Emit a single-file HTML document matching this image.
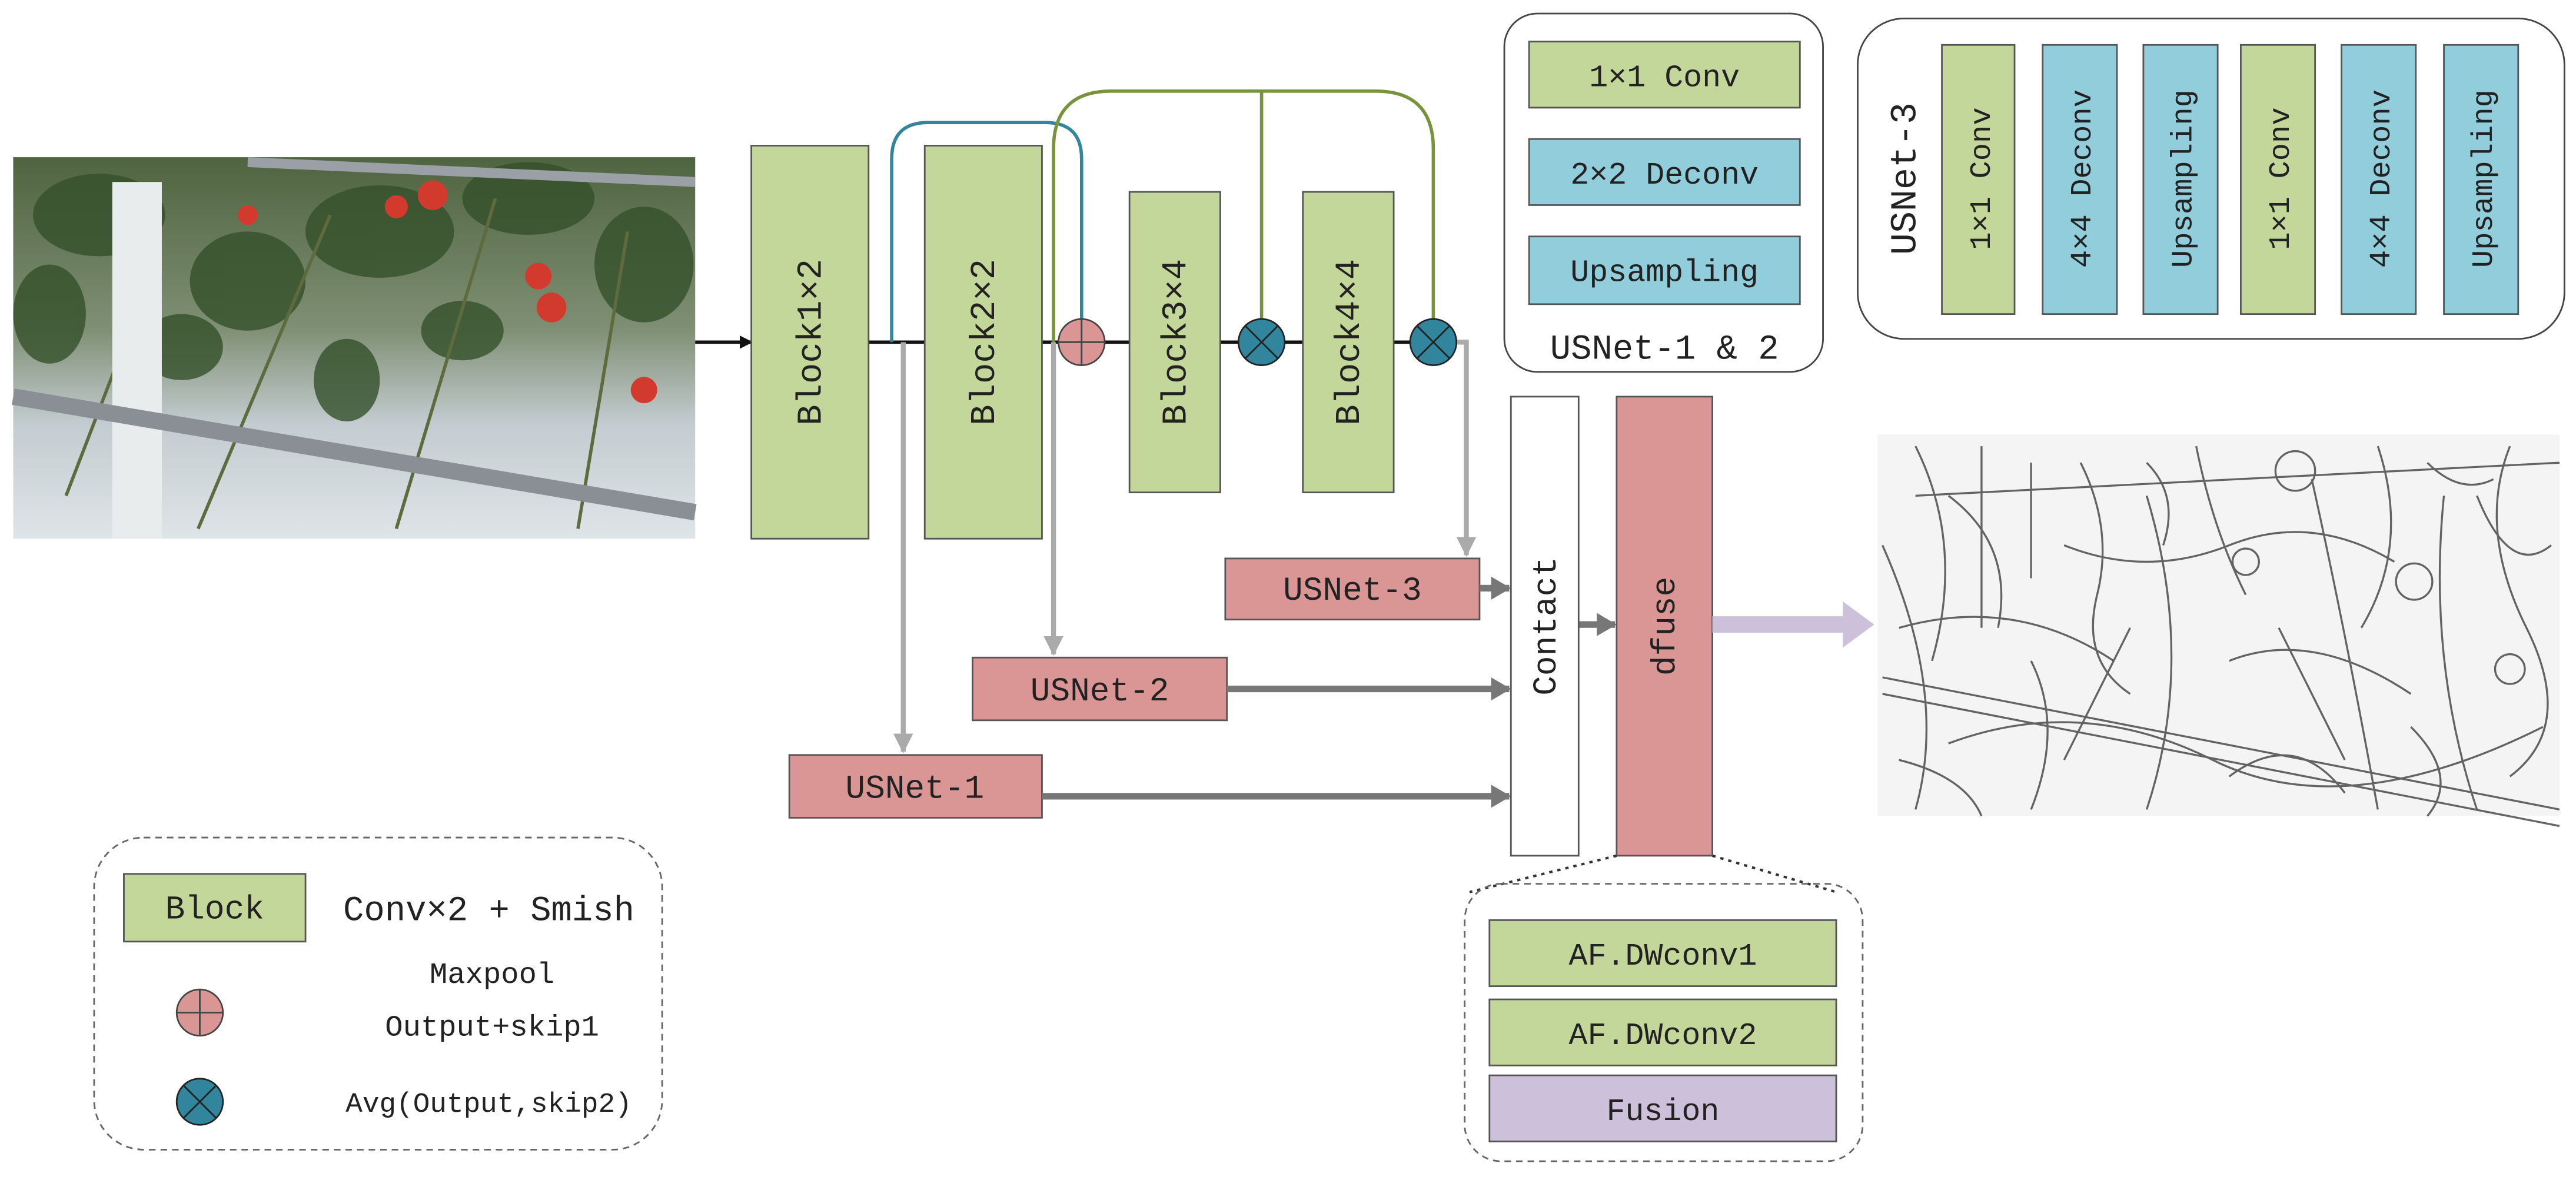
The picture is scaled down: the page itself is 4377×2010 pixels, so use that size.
<!DOCTYPE html>
<html><head><meta charset="utf-8"><style>
html,body{margin:0;padding:0;background:#fff;}
svg{display:block;}
text{font-family:"Liberation Mono","Noto Serif CJK SC",monospace;fill:#222;}
</style></head><body>
<svg width="4377" height="2010" viewBox="0 0 1560 716" xmlns="http://www.w3.org/2000/svg">
<defs>
<linearGradient id="ph" x1="0" y1="0" x2="0" y2="1">
<stop offset="0" stop-color="#4f6440"/><stop offset="0.45" stop-color="#7f8f74"/><stop offset="0.7" stop-color="#c3ccd0"/><stop offset="1" stop-color="#dfe4e8"/></linearGradient>
<marker id="ab" markerWidth="8" markerHeight="8" refX="7" refY="4" orient="auto" markerUnits="userSpaceOnUse"><path d="M0,0 L8,4 L0,8 z" fill="#111"/></marker>
<marker id="ag" markerWidth="12" markerHeight="12" refX="11" refY="6" orient="auto" markerUnits="userSpaceOnUse"><path d="M0,0 L12,6 L0,12 z" fill="#aaa"/></marker>
<marker id="ad" markerWidth="12" markerHeight="14" refX="11" refY="7" orient="auto" markerUnits="userSpaceOnUse"><path d="M0,0 L12,7 L0,14 z" fill="#777"/></marker>
</defs>
<!-- photo -->
<rect x="8" y="95" width="413" height="231" fill="url(#ph)"/>
<g fill="#34502a" opacity="0.8">
<ellipse cx="60" cy="130" rx="40" ry="25"/><ellipse cx="150" cy="170" rx="35" ry="30"/><ellipse cx="230" cy="140" rx="45" ry="28"/><ellipse cx="320" cy="120" rx="40" ry="22"/><ellipse cx="390" cy="160" rx="30" ry="35"/><ellipse cx="110" cy="210" rx="25" ry="20"/><ellipse cx="210" cy="230" rx="20" ry="25"/><ellipse cx="30" cy="190" rx="22" ry="30"/><ellipse cx="280" cy="200" rx="25" ry="18"/></g>
<g stroke="#5d6b3e" stroke-width="2" fill="none"><path d="M120,320 L200,130"/><path d="M240,320 L300,120"/><path d="M350,320 L380,140"/><path d="M40,300 L90,170"/></g>
<rect x="68" y="110" width="30" height="216" fill="#e8ecec"/>
<path d="M8,240 L421,310" stroke="#8a8f96" stroke-width="10"/>
<path d="M150,98 L421,110" stroke="#9aa0a6" stroke-width="6"/>
<g fill="#d33a2e"><circle cx="262" cy="118" r="9"/><circle cx="326" cy="167" r="8"/><circle cx="334" cy="186" r="9"/><circle cx="390" cy="236" r="8"/><circle cx="150" cy="130" r="6"/><circle cx="240" cy="125" r="7"/></g>
<!-- edge image -->
<rect x="1137" y="263" width="413" height="231" fill="#f4f4f4"/>
<g stroke="#333" stroke-width="1.2" fill="none" opacity="0.75">
<path d="M1140,410 L1550,490"/><path d="M1140,420 L1550,500"/><path d="M1200,270 L1200,380"/><path d="M1230,280 L1230,350"/><path d="M1140,330 Q1180,420 1160,490"/><path d="M1300,300 Q1330,400 1300,490"/><path d="M1400,290 Q1420,380 1440,490"/><path d="M1480,300 Q1470,400 1500,490"/><path d="M1160,300 L1550,280"/><path d="M1250,330 Q1300,350 1350,330 T1450,340"/><path d="M1180,450 Q1260,420 1340,460 T1540,440"/>
<circle cx="1390" cy="285" r="12"/><circle cx="1462" cy="352" r="11"/><circle cx="1520" cy="405" r="9"/><circle cx="1360" cy="340" r="8"/>
<path d="M1150,380 Q1220,360 1280,400"/><path d="M1350,400 Q1400,380 1460,420"/><path d="M1250,460 L1290,380"/><path d="M1420,460 L1380,380"/><path d="M1500,300 Q1520,350 1545,330"/>
<path d="M1160,270 Q1190,330 1170,400"/><path d="M1260,280 Q1280,320 1270,360 T1290,420"/><path d="M1330,270 Q1340,320 1360,360"/><path d="M1440,270 Q1460,330 1430,380"/><path d="M1520,270 Q1500,320 1530,380 T1520,470"/><path d="M1180,300 Q1220,330 1210,380"/><path d="M1230,400 Q1250,440 1230,490"/><path d="M1350,470 Q1390,440 1420,480"/><path d="M1460,440 Q1490,470 1470,494"/><path d="M1150,460 Q1190,470 1200,494"/><path d="M1300,280 Q1320,300 1310,330"/><path d="M1470,280 Q1490,300 1510,290"/></g>
<!-- main flow -->
<line x1="421" y1="207" x2="455" y2="207" stroke="#111" stroke-width="2" marker-end="url(#ab)"/>
<line x1="526" y1="207" x2="560" y2="207" stroke="#111" stroke-width="2"/>
<line x1="631" y1="207" x2="684" y2="207" stroke="#111" stroke-width="2"/>
<line x1="739" y1="207" x2="789" y2="207" stroke="#111" stroke-width="2"/>
<line x1="844" y1="207" x2="882" y2="207" stroke="#111" stroke-width="2"/>
<g stroke="#aaa" stroke-width="3" fill="none">
<path d="M547,207 L547,455" marker-end="url(#ag)"/>
<path d="M638,207 L638,396" marker-end="url(#ag)"/>
<path d="M882,207 L888,207 L888,336" marker-end="url(#ag)"/></g>
<path d="M540,207 L540,96 Q540,74 562,74 L633,74 Q655,74 655,96 L655,193" stroke="#31859c" stroke-width="2" fill="none"/>
<path d="M638,207 L638,90 Q638,55 673,55 L833,55 Q868,55 868,90 L868,193" stroke="#77933c" stroke-width="2" fill="none"/>
<line x1="764" y1="55" x2="764" y2="193" stroke="#77933c" stroke-width="2"/>
<g fill="#c4d79b" stroke="#555" stroke-width="1">
<rect x="455" y="88" width="71" height="238"/><rect x="560" y="88" width="71" height="238"/>
<rect x="684" y="116" width="55" height="182"/><rect x="789" y="116" width="55" height="182"/></g>
<g font-size="21" text-anchor="middle">
<text transform="translate(497,207) rotate(-90)">Block1×2</text>
<text transform="translate(602,207) rotate(-90)">Block2×2</text>
<text transform="translate(718,207) rotate(-90)">Block3×4</text>
<text transform="translate(823,207) rotate(-90)">Block4×4</text></g>
<circle cx="655" cy="207" r="14" fill="#d99694" stroke="#444" stroke-width="1"/>
<path d="M641,207 H669 M655,193 V221" stroke="#444" stroke-width="1"/>
<g stroke="#222" stroke-width="1"><circle cx="764" cy="207" r="14" fill="#31859c"/><circle cx="868" cy="207" r="14" fill="#31859c"/>
<path d="M754,197 L774,217 M774,197 L754,217 M858,197 L878,217 M878,197 L858,217"/></g>
<g fill="#d99694" stroke="#555" stroke-width="1">
<rect x="742" y="338" width="154" height="37"/><rect x="589" y="398" width="154" height="38"/><rect x="478" y="457" width="153" height="38"/></g>
<g font-size="20" text-anchor="middle">
<text x="819" y="363">USNet-3</text><text x="666" y="424">USNet-2</text><text x="554" y="483">USNet-1</text></g>
<g stroke="#777" stroke-width="4">
<line x1="896" y1="356" x2="914" y2="356" marker-end="url(#ad)"/>
<line x1="743" y1="417" x2="914" y2="417" marker-end="url(#ad)"/>
<line x1="631" y1="482" x2="914" y2="482" marker-end="url(#ad)"/>
<line x1="956" y1="378" x2="978" y2="378" marker-end="url(#ad)"/></g>
<rect x="915" y="240" width="41" height="278" fill="#fff" stroke="#555" stroke-width="1"/>
<text transform="translate(942,379) rotate(-90)" font-size="20" text-anchor="middle">Contact</text>
<rect x="979" y="240" width="58" height="278" fill="#d99694" stroke="#555" stroke-width="1"/>
<text transform="translate(1014,379) rotate(-90)" font-size="20" text-anchor="middle">dfuse</text>
<line x1="1037" y1="378" x2="1118" y2="378" stroke="#ccc0da" stroke-width="10"/>
<path d="M1116,364 L1135,378 L1116,392 z" fill="#ccc0da"/>
<rect x="911" y="8" width="193" height="217" rx="20" fill="#fff" stroke="#444" stroke-width="1"/>
<rect x="926" y="25" width="164" height="40" fill="#c4d79b" stroke="#555"/>
<rect x="926" y="84" width="164" height="40" fill="#92cddc" stroke="#555"/>
<rect x="926" y="143" width="164" height="41" fill="#92cddc" stroke="#555"/>
<g font-size="19" text-anchor="middle"><text x="1008" y="52">1×1 Conv</text><text x="1008" y="111">2×2 Deconv</text><text x="1008" y="170">Upsampling</text>
<text x="1008" y="217" font-size="21">USNet-1 &amp; 2</text></g>
<rect x="1125" y="11" width="428" height="194" rx="28" fill="#fff" stroke="#444" stroke-width="1"/>
<text transform="translate(1160,108) rotate(-90)" font-size="22" text-anchor="middle">USNet-3</text>
<g stroke="#555" stroke-width="1">
<rect x="1176" y="27" width="44" height="163" fill="#c4d79b"/><rect x="1237" y="27" width="45" height="163" fill="#92cddc"/><rect x="1298" y="27" width="45" height="163" fill="#92cddc"/>
<rect x="1357" y="27" width="45" height="163" fill="#c4d79b"/><rect x="1418" y="27" width="45" height="163" fill="#92cddc"/><rect x="1480" y="27" width="45" height="163" fill="#92cddc"/></g>
<g font-size="18" text-anchor="middle">
<text transform="translate(1205,108) rotate(-90)">1×1 Conv</text><text transform="translate(1266,108) rotate(-90)">4×4 Deconv</text><text transform="translate(1327,108) rotate(-90)">Upsampling</text>
<text transform="translate(1386,108) rotate(-90)">1×1 Conv</text><text transform="translate(1447,108) rotate(-90)">4×4 Deconv</text><text transform="translate(1509,108) rotate(-90)">Upsampling</text></g>
<rect x="57" y="507" width="344" height="189" rx="30" fill="none" stroke="#666" stroke-width="1" stroke-dasharray="4,3"/>
<rect x="75" y="529" width="110" height="41" fill="#c4d79b" stroke="#555"/>
<text x="130" y="556" font-size="20" text-anchor="middle">Block</text>
<text x="296" y="557" font-size="21" text-anchor="middle">Conv×2 + Smish</text>
<circle cx="121" cy="613" r="14" fill="#d99694" stroke="#444"/><path d="M107,613 H135 M121,599 V627" stroke="#444"/>
<text x="298" y="595" font-size="18" text-anchor="middle">Maxpool</text>
<text x="298" y="627" font-size="18" text-anchor="middle">Output+skip1</text>
<circle cx="121" cy="667" r="14" fill="#31859c" stroke="#222"/><path d="M111,657 L131,677 M131,657 L111,677" stroke="#222"/>
<text x="296" y="673" font-size="17" text-anchor="middle">Avg(Output,skip2)</text>
<path d="M979,518 L890,540 M1037,518 L1112,540" stroke="#333" stroke-width="1.5" stroke-dasharray="2,3"/>
<rect x="887" y="535" width="241" height="168" rx="22" fill="none" stroke="#666" stroke-dasharray="4,3"/>
<rect x="902" y="557" width="210" height="40" fill="#c4d79b" stroke="#555"/>
<rect x="902" y="605" width="210" height="40" fill="#c4d79b" stroke="#555"/>
<rect x="902" y="651" width="210" height="40" fill="#ccc0da" stroke="#555"/>
<g font-size="19" text-anchor="middle"><text x="1007" y="584">AF.DWconv1</text><text x="1007" y="632">AF.DWconv2</text><text x="1007" y="678">Fusion</text></g>
</svg>
</body></html>
